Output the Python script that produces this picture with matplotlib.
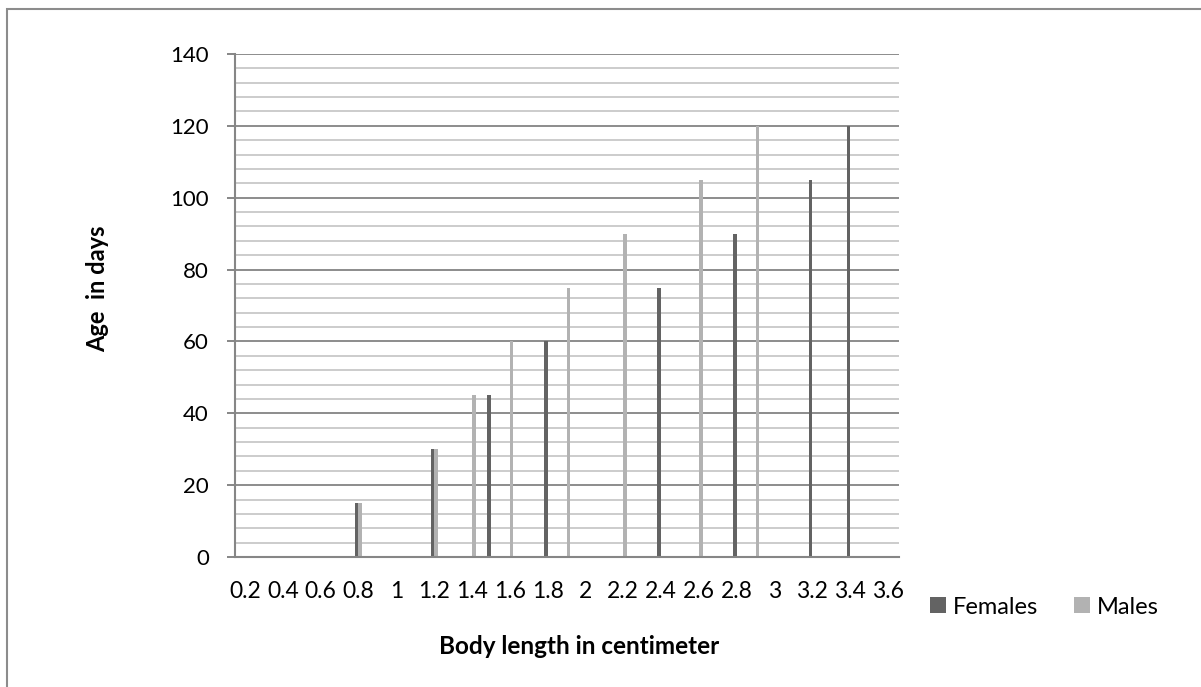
import matplotlib.pyplot as plt
import matplotlib.patches as mpatches
import numpy as np

# data
length_ticks = [0.2, 0.4, 0.6, 0.8, 1, 1.2, 1.4, 1.6, 1.8, 2,
                2.2, 2.4, 2.6, 2.8, 3, 3.2, 3.4, 3.6]
female_len = [0.8, 1.2, 1.5, 1.8, 2.4, 2.8, 3.2, 3.4]
female_age = [15, 30, 45, 60, 75, 90, 105, 120]
male_len = [0.8, 1.2, 1.4, 1.6, 1.9, 2.2, 2.6, 2.9]
male_age = [15, 30, 45, 60, 75, 90, 105, 120]

dark = '#636363'
light = '#b2b2b2'

fig = plt.figure(figsize=(12.01, 6.87), dpi=100)
ax = fig.add_axes([235/1201, 1-557/687, (899-235)/1201, (557-54)/687])

w = 0.019
ax.bar(np.array(female_len) - w/2, female_age, width=w, color=dark, label='Females', zorder=3)
ax.bar(np.array(male_len) + w/2, male_age, width=w, color=light, label='Males', zorder=3)

ax.set_xlim(0.147, 3.658)
ax.set_ylim(0, 140)
ax.set_xticks(length_ticks)
ax.set_xticklabels([f'{v:g}' for v in length_ticks])
ax.set_yticks(np.arange(0, 141, 20))
ax.set_yticks(np.arange(0, 141, 4), minor=True)

# gridlines
ax.grid(which='major', axis='y', color='#8c8c8c', lw=1.4, zorder=1)
ax.grid(which='minor', axis='y', color='#c4c4c4', lw=1.2, zorder=0)
ax.set_axisbelow(True)

for s in ['top', 'right']:
    ax.spines[s].set_visible(False)
for s in ['left', 'bottom']:
    ax.spines[s].set_color('#868686')
    ax.spines[s].set_linewidth(1.5)
    ax.spines[s].set_zorder(4)

ax.tick_params(axis='y', which='major', length=5.8, width=1.4, color='#868686',
               pad=13, labelsize=16, labelfontfamily='Lato')
ax.tick_params(axis='y', which='minor', length=0)
ax.tick_params(axis='x', length=0, pad=17, labelsize=16.5, labelfontfamily='Lato')

fig.text(97.5/1201, 1-289/687, 'Age  in days', rotation=90, ha='center', va='center',
         fontsize=17, fontweight='bold', family='Lato')
fig.text(579/1201, 1-647/687, 'Body length in centimeter', ha='center', va='center',
         fontsize=17.5, fontweight='bold', family='Lato')

leg = fig.legend(loc='center left', bbox_to_anchor=(930/1201, 1-607/687), ncol=2,
                 frameon=False, prop={'family': 'Lato', 'size': 17},
                 borderpad=0, borderaxespad=0,
                 handlelength=0.68, handleheight=0.68, handletextpad=0.3,
                 columnspacing=1.5)

# outer chart border
fig.patches.append(mpatches.Rectangle((7/1201, -0.1), 1.2, 1-9/687+0.1,
                                      transform=fig.transFigure, fill=False,
                                      edgecolor='#8c8c8c', lw=1.5))

fig.savefig('out.png', dpi=100)
